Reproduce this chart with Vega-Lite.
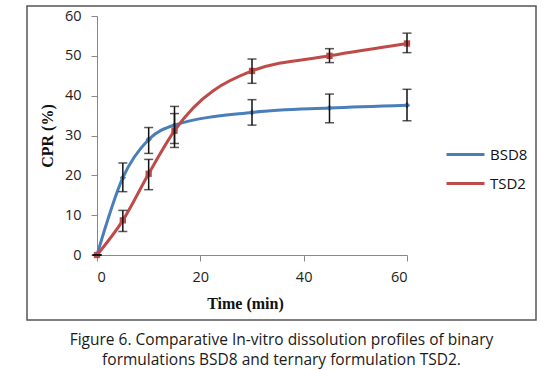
{
  "$schema": "https://vega.github.io/schema/vega-lite/v6.json",
  "autosize": "none",
  "width": 509,
  "height": 314,
  "padding": {"left": 27, "top": 6, "right": 16, "bottom": 50},
  "background": "white",
  "config": {
    "view": {"stroke": "#555555", "strokeWidth": 1.5},
    "font": "Open Sans"
  },
  "title": {
    "text": ["Figure 6. Comparative In-vitro dissolution profiles of binary", "formulations BSD8 and ternary formulation TSD2."],
    "orient": "bottom",
    "anchor": "middle",
    "font": "Open Sans",
    "fontSize": 15.5,
    "fontWeight": "normal",
    "color": "#1a1a1a",
    "offset": 13,
    "lineHeight": 20
  },
  "resolve": {"legend": {"color": "independent", "shape": "independent"}},
  "data": {
    "values": [
      {"series": "BSD8", "time": 0, "cpr": 0, "lo": 0, "hi": 0},
      {"series": "BSD8", "time": 5, "cpr": 19.4, "lo": 15.9, "hi": 23.1},
      {"series": "BSD8", "time": 10, "cpr": 29.0, "lo": 25.5, "hi": 32.0},
      {"series": "BSD8", "time": 15, "cpr": 32.6, "lo": 28.0, "hi": 37.3},
      {"series": "BSD8", "time": 30, "cpr": 35.8, "lo": 32.6, "hi": 39.0},
      {"series": "BSD8", "time": 45, "cpr": 36.9, "lo": 33.2, "hi": 40.4},
      {"series": "BSD8", "time": 60, "cpr": 37.6, "lo": 33.7, "hi": 41.6},
      {"series": "TSD2", "time": 0, "cpr": 0, "lo": 0, "hi": 0},
      {"series": "TSD2", "time": 5, "cpr": 8.7, "lo": 5.9, "hi": 11.2},
      {"series": "TSD2", "time": 10, "cpr": 20.4, "lo": 16.4, "hi": 24.0},
      {"series": "TSD2", "time": 15, "cpr": 31.2, "lo": 27.0, "hi": 35.5},
      {"series": "TSD2", "time": 30, "cpr": 46.2, "lo": 43.1, "hi": 49.2},
      {"series": "TSD2", "time": 45, "cpr": 50.0, "lo": 48.3, "hi": 51.8},
      {"series": "TSD2", "time": 60, "cpr": 53.1, "lo": 50.8, "hi": 55.7}
    ]
  },
  "encoding": {
    "x": {
      "field": "time",
      "type": "quantitative",
      "scale": {"domain": [0, 60], "range": [70, 380], "nice": false},
      "axis": {
        "values": [0, 20, 40, 60],
        "offset": -65,
        "grid": false,
        "domainColor": "#888888",
        "tickColor": "#888888",
        "tickSize": 6,
        "labelPadding": 9,
        "labelFont": "Open Sans",
        "labelFontSize": 14.5,
        "labelColor": "#222222",
        "title": "Time (min)",
        "titleFont": "Liberation Serif",
        "titleFontSize": 16,
        "titleFontWeight": "bold",
        "titleColor": "#111111",
        "titlePadding": 12,
        "titleX": 218
      }
    },
    "y": {
      "field": "cpr",
      "type": "quantitative",
      "scale": {"domain": [0, 60], "range": [249, 10], "nice": false, "zero": true},
      "axis": {
        "values": [0, 10, 20, 30, 40, 50, 60],
        "offset": -70,
        "grid": false,
        "domainColor": "#888888",
        "tickColor": "#888888",
        "tickSize": 6,
        "labelPadding": 10,
        "labelFont": "Open Sans",
        "labelFontSize": 14.5,
        "labelColor": "#222222",
        "title": "CPR (%)",
        "titleFont": "Liberation Serif",
        "titleFontSize": 16,
        "titleFontWeight": "bold",
        "titleColor": "#111111",
        "titlePadding": 9
      }
    }
  },
  "layer": [
    {
      "mark": {"type": "line", "interpolate": "monotone", "strokeWidth": 3},
      "encoding": {
        "color": {
          "field": "series",
          "type": "nominal",
          "scale": {"domain": ["BSD8", "TSD2"], "range": ["#4a7ebb", "#be4b48"]},
          "legend": {
            "title": null,
            "orient": "none",
            "legendX": 418,
            "legendY": 128,
            "padding": 0,
            "symbolType": "stroke",
            "symbolSize": 1444,
            "symbolStrokeWidth": 3,
            "rowPadding": -5,
            "labelOffset": 4,
            "labelFont": "Open Sans",
            "labelFontSize": 15,
            "labelColor": "#111111"
          }
        }
      }
    },
    {
      "mark": {"type": "point", "filled": true, "opacity": 1, "size": 40},
      "encoding": {
        "color": {"field": "series", "type": "nominal", "legend": null},
        "shape": {
          "field": "series",
          "type": "nominal",
          "scale": {"domain": ["BSD8", "TSD2"], "range": ["diamond", "square"]},
          "legend": null
        }
      }
    },
    {
      "mark": {
        "type": "errorbar",
        "ticks": {"size": 9, "thickness": 1.5, "color": "#111111"},
        "rule": {"strokeWidth": 1.5, "color": "#111111"}
      },
      "encoding": {
        "y": {"field": "lo", "type": "quantitative"},
        "y2": {"field": "hi"}
      }
    }
  ]
}
